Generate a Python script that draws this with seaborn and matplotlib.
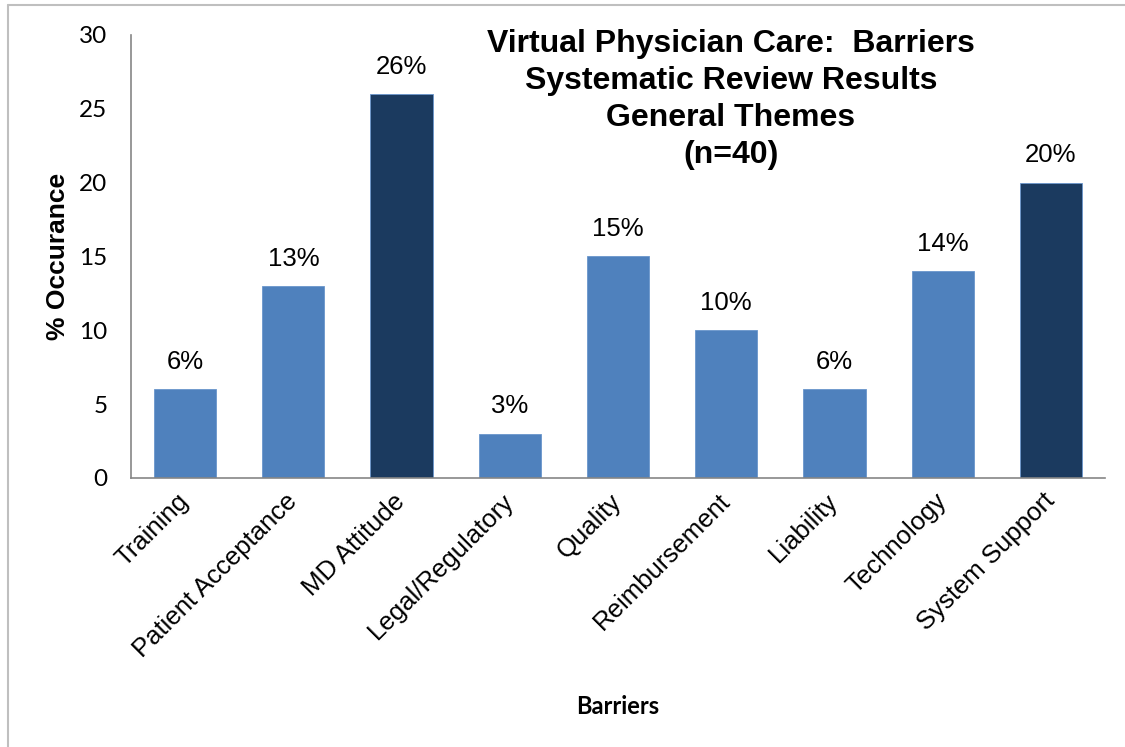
import matplotlib
matplotlib.use("Agg")
import matplotlib.pyplot as plt
import matplotlib.transforms as mtransforms
from matplotlib.lines import Line2D
import seaborn as sns
import pandas as pd

categories = ["Training", "Patient Acceptance", "MD Attitude", "Legal/Regulatory",
              "Quality", "Reimbursement", "Liability", "Technology", "System Support"]
values = [6, 13, 26, 3, 15, 10, 6, 14, 20]
value_labels = ["6%", "13%", "26%", "3%", "15%", "10%", "6%", "14%", "20%"]
highlighted = ["MD Attitude", "System Support"]
y_ticks = [0, 5, 10, 15, 20, 25, 30]

LIGHT = "#4F81BD"
DARK = "#1B3A5F"
palette = {c: (DARK if c in highlighted else LIGHT) for c in categories}

sns.set_theme(style="white")
plt.rcParams["font.family"] = ["Liberation Sans", "DejaVu Sans"]
plt.rcParams.update({"text.color": "black", "axes.labelcolor": "black",
                     "xtick.color": "black", "ytick.color": "black"})

df = pd.DataFrame({"Barriers": categories, "Occurance": values})

fig = plt.figure(figsize=(11.25, 7.47), dpi=100)
ax = fig.add_axes([131 / 1125, 1 - 478 / 747, 974 / 1125, 443 / 747])

sns.barplot(data=df, x="Barriers", y="Occurance", hue="Barriers", palette=palette,
            order=categories, hue_order=categories, legend=False, dodge=False,
            width=0.575, saturation=1, ax=ax, edgecolor="#6A96CC", linewidth=0.6)

for patch, txt in zip(ax.patches, value_labels):
    x = patch.get_x() + patch.get_width() / 2
    ax.annotate(txt, (x, patch.get_height()), xytext=(0, 11), textcoords="offset points",
                ha="center", va="bottom", fontsize=18.5, color="black")

ax.set_ylim(0, 30)
ax.set_xlim(-0.5, len(categories) - 0.5)
ax.set_yticks(y_ticks)
ax.set_yticklabels([str(t) for t in y_ticks], family=["Lato", "DejaVu Sans"], fontsize=17.5)
ax.tick_params(axis="both", length=0, colors="black")
ax.tick_params(axis="y", pad=17)

offset = mtransforms.ScaledTranslation(11 / 100, 0, fig.dpi_scale_trans)
for lab in ax.get_xticklabels():
    lab.set_rotation(45)
    lab.set_rotation_mode("anchor")
    lab.set_ha("right")
    lab.set_va("center")
    lab.set_fontsize(18.5)
    lab.set_transform(lab.get_transform() + offset)
ax.tick_params(axis="x", pad=14)

ax.set_ylabel("% Occurance", fontsize=19, fontweight="bold", color="black")
ax.yaxis.set_label_coords(-0.0626, 0.5)
ax.set_xlabel("Barriers", fontsize=17, fontweight="bold", color="black",
              family=["Lato", "DejaVu Sans"])
ax.xaxis.set_label_coords(0.5, -0.49)

for side in ["top", "right"]:
    ax.spines[side].set_visible(False)
for side in ["left", "bottom"]:
    ax.spines[side].set_color("#868686")
    ax.spines[side].set_linewidth(1.2)

fig.text(731 / 1125, 1 - 29 / 747,
         "Virtual Physician Care:  Barriers\nSystematic Review Results\nGeneral Themes\n(n=40)",
         ha="center", va="top", fontsize=23, fontweight="bold", linespacing=1.3,
         color="black")

# outer chart frame (left and top edges)
border = dict(color="#BFBFBF", linewidth=1.5, transform=fig.transFigure)
fig.add_artist(Line2D([8 / 1125, 8 / 1125], [0, 1 - 5 / 747], **border))
fig.add_artist(Line2D([8 / 1125, 1], [1 - 5 / 747, 1 - 5 / 747], **border))

fig.savefig("out.png", dpi=100)
